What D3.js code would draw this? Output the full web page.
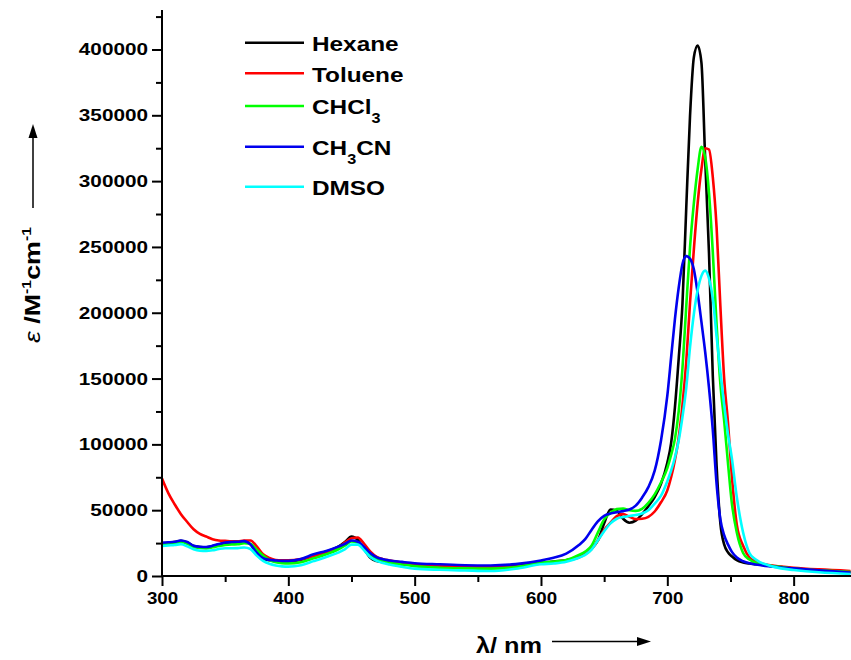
<!DOCTYPE html>
<html><head><meta charset="utf-8">
<script src="https://cdn.jsdelivr.net/npm/d3@7"></script>
<style>body{margin:0;background:#fff}svg{display:block}</style>
</head><body><svg id="c" width="851" height="660"></svg>
<script>
// ---- data ----
const wavelengths = [300,305,310,315,320,325,330,335,340,345,350,355,360,365,370,375,380,385,390,395,400,410,420,430,440,445,450,455,460,465,470,475,480,490,500,520,540,560,580,600,610,620,630,635,640,645,650,655,660,665,670,675,680,685,690,695,700,703,706,709,712,715,718,721,724,727,730,733,736,739,742,745,748,751,755,760,765,770,780,790,800,820,845];
const hexane = [25000,25300,25800,26800,25500,22800,22000,21800,22700,24000,25000,25500,25700,26300,24000,17500,13300,12000,11300,11000,11000,12300,15800,18500,22500,26000,30000,27500,20500,13800,11300,10500,10000,9000,8300,7500,7000,6800,7800,10000,11000,12000,14500,17000,21000,27000,40000,50500,49500,43500,40500,42000,47000,53000,60000,70000,86000,101000,128000,165000,207000,280000,350000,394000,403000,390000,316000,245000,152000,84000,40000,24000,18000,15000,12000,10300,9500,9000,7800,6800,5700,4300,3000];
const toluene = [74000,63000,54500,47000,41000,35500,32000,30000,28000,27000,26700,26300,26300,27000,27000,22500,16500,13700,12200,11900,11900,12800,15000,18300,22000,25500,28600,29300,24500,18500,14500,12800,11800,10000,8800,7800,7200,6800,7200,9500,10700,12000,14000,16500,20500,27000,35000,40500,45500,47000,45000,43200,43500,45000,49000,56000,65000,75000,88000,105000,130000,163000,208000,248000,283000,309000,325000,324000,303000,265000,205000,150000,117000,77000,39000,23000,14000,11000,8400,7200,6300,5000,3800];
const chcl3 = [24100,24400,24800,25600,24500,22100,21300,21000,21800,22800,23600,24000,24100,25000,24500,20000,15500,12300,10500,9800,9600,10500,13400,16500,20500,23200,26300,25500,21000,16300,13300,11500,10300,8700,7500,6300,5800,5600,6800,10100,11000,12200,16000,18500,23000,33000,43000,48000,50800,51200,50000,49500,51000,55500,62000,71000,82000,92000,104000,125000,158000,205000,250000,283000,309000,326000,318000,291000,246000,191000,146000,118000,86000,56000,33000,17500,12500,10000,8000,6800,5600,4300,3000];
const ch3cn = [25300,25600,26000,27000,25800,23000,22200,22000,23000,24300,25400,25800,26000,26500,24000,17700,13500,12300,11800,11500,11500,12900,16500,19000,22500,24500,27000,26000,22000,17300,14200,12700,11800,10700,9700,8900,8200,8000,9000,11800,13800,17000,23500,28000,35000,41500,45700,47500,48500,49300,50500,53500,59500,67500,80000,103000,137000,166000,195000,219000,237000,243000,241000,233000,215000,193000,170000,143000,111000,70000,43000,31000,24000,18500,14000,11200,9600,8700,7400,6500,5800,4300,2700];
const dmso = [22800,23200,23500,24200,22500,20300,19200,19000,19500,20500,21100,21100,21200,21700,20500,15500,11500,9300,8000,7300,7100,8200,11300,14500,18000,20500,23800,23800,19500,14300,11500,9800,8700,7000,5600,4700,4200,3800,5500,8900,9500,10800,13900,16000,20000,27000,34000,40000,43500,44800,45600,46300,47500,50000,55000,61000,72000,80000,90000,103000,121000,143000,174000,199000,217000,228000,232000,226000,211000,182000,155000,130000,108000,90000,60000,33000,17500,12500,8200,5800,4600,2800,1500];

const seriesNames = ["Hexane","Toluene","CHCl3","CH3CN","DMSO"];
const seriesColors = ["#000000","#ff0000","#00ff00","#0000ee","#00ffff"];
const seriesValues = [hexane, toluene, chcl3, ch3cn, dmso];
// legend label parts: [text, isSubscript]
const legendLabels = [
  [["Hexane",0]],
  [["Toluene",0]],
  [["CHCl",0],["3",1]],
  [["CH",0],["3",1],["CN",0]],
  [["DMSO",0]]
];
const xMajorTicks = [300,400,500,600,700,800];
const xMinorTicks = [350,450,550,650,750];
const yMajorTicks = [0,50000,100000,150000,200000,250000,300000,350000,400000];
const yMinorTicks = [25000,75000,125000,175000,225000,275000,325000,375000,425000];

// ---- layout ----
const svg = d3.select("#c");
const FONT = "'Liberation Sans', Arial, Helvetica, sans-serif";
const pLeft = 162, pBottom = 576, pTop = 10, pRight = 851;
const x = d3.scaleLinear().domain([300, 845.4]).range([pLeft, pRight]);
const y = d3.scaleLinear().domain([0, 430000]).range([pBottom, pTop]);

svg.append("defs").append("clipPath").attr("id","clip")
  .append("rect").attr("x", pLeft).attr("y", 0).attr("width", pRight-pLeft).attr("height", pBottom);

// curves
const line = d3.line().x((d,i)=>x(wavelengths[i])).y(d=>y(d)).curve(d3.curveMonotoneX);
const g = svg.append("g").attr("clip-path","url(#clip)");
seriesValues.forEach((vals, k) => {
  g.append("path").datum(vals).attr("d", line)
    .attr("fill","none").attr("stroke", seriesColors[k]).attr("stroke-width", 2.6)
    .attr("stroke-linejoin","round");
});

// horizontally widen text around its anchor x
function widen(sel, f){
  sel.each(function(){
    const t = d3.select(this);
    const x0 = +(t.attr("x") || 0);
    t.attr("x", x0 / f).attr("transform", `scale(${f},1)`);
  });
}

// axes
const yAxis = d3.axisLeft(y).tickValues(yMajorTicks).tickFormat(d3.format("d")).tickSize(10).tickPadding(4);
const yMinor = d3.axisLeft(y).tickValues(yMinorTicks).tickFormat("").tickSize(6);
const xAxis = d3.axisBottom(x).tickValues(xMajorTicks).tickFormat(d3.format("d")).tickSize(10).tickPadding(6);
const xMinor = d3.axisBottom(x).tickValues(xMinorTicks).tickFormat("").tickSize(6);

function styleAxis(sel){
  sel.select(".domain").attr("stroke","#000").attr("stroke-width",2);
  sel.selectAll(".tick line").attr("stroke","#000").attr("stroke-width",2);
  sel.selectAll("text").attr("font-family",FONT).attr("font-weight","bold")
    .attr("font-size",17).attr("fill","#000");
}
const gy = svg.append("g").attr("transform",`translate(${pLeft},0)`).call(yAxis);
gy.select(".domain").attr("d", `M0,${pBottom+1}V${pTop}`);
styleAxis(gy);
widen(gy.selectAll(".tick text"), 1.22);
const gym = svg.append("g").attr("transform",`translate(${pLeft},0)`).call(yMinor);
gym.select(".domain").remove();
styleAxis(gym);

const gx = svg.append("g").attr("transform",`translate(0,${pBottom})`).call(xAxis);
gx.select(".domain").attr("d", `M${pLeft-1},0H${pRight}`);
styleAxis(gx);
widen(gx.selectAll(".tick text"), 1.1);
const gxm = svg.append("g").attr("transform",`translate(0,${pBottom})`).call(xMinor);
gxm.select(".domain").remove();
styleAxis(gxm);

// legend
const legendY = [42.7, 73.3, 106, 146.7, 186.7];
const lg = svg.append("g");
seriesNames.forEach((name, k) => {
  const ly = legendY[k];
  lg.append("line").attr("x1",245).attr("x2",304).attr("y1",ly).attr("y2",ly)
    .attr("stroke", seriesColors[k]).attr("stroke-width",2.6);
  const t = lg.append("text").attr("x",312).attr("y",ly+8.5)
    .attr("font-family",FONT).attr("font-weight","bold").attr("font-size",21)
    .attr("fill","#000");
  legendLabels[k].forEach(([txt, sub], j) => {
    const ts = t.append("tspan").text(txt);
    if (sub) ts.attr("font-size",14).attr("dy",9);
    else if (j > 0) ts.attr("dy",-9);
  });
  widen(t, 1.16);
});

// y title with arrow
const ytg = svg.append("g").attr("transform","translate(40,343) rotate(-90)");
const yt = ytg.append("text").attr("x",0).attr("y",0)
  .attr("font-family",FONT).attr("font-weight","bold").attr("font-size",22).attr("fill","#000");
yt.append("tspan").attr("font-style","italic").attr("font-weight","normal").text("ε");
yt.append("tspan").text(" /M");
yt.append("tspan").attr("font-size",13).attr("dy",-9).text("-1");
yt.append("tspan").attr("dy",9).text("cm");
yt.append("tspan").attr("font-size",13).attr("dy",-9).text("-1");
widen(yt, 1.22);
svg.append("line").attr("x1",33).attr("x2",33).attr("y1",208).attr("y2",137)
  .attr("stroke","#000").attr("stroke-width",1.5);
svg.append("path").attr("d","M33,124 L28.5,138 L37.5,138 Z").attr("fill","#000");

// x title with arrow
const xt = svg.append("text").attr("x",476).attr("y",653)
  .attr("font-family",FONT).attr("font-weight","bold").attr("font-size",22).attr("fill","#000")
  .text("λ/ nm");
widen(xt, 1.15);
svg.append("line").attr("x1",552).attr("x2",638).attr("y1",641.5).attr("y2",641.5)
  .attr("stroke","#000").attr("stroke-width",1.5);
svg.append("path").attr("d","M651,641.5 L637,637 L637,646 Z").attr("fill","#000");
</script></body></html>
